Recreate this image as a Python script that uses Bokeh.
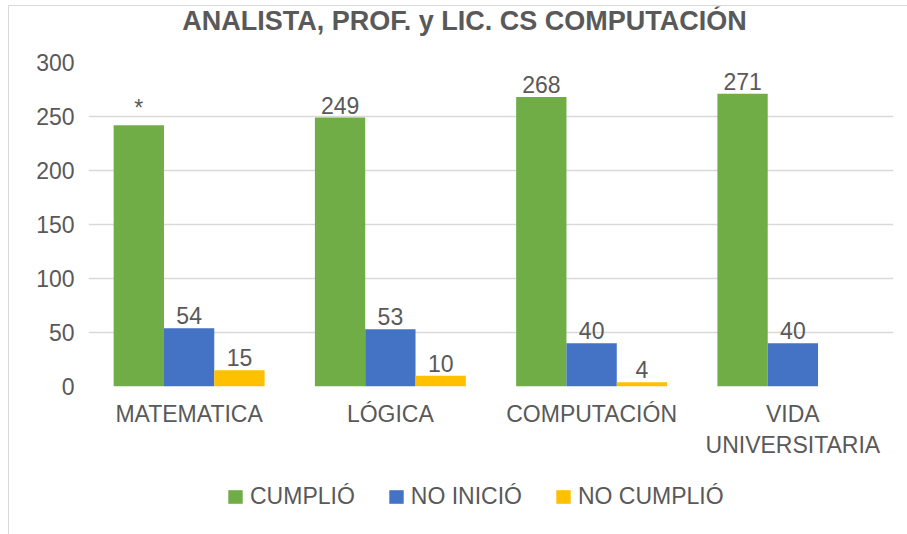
from bokeh.plotting import figure
from bokeh.models import ColumnDataSource, FactorRange, Legend, LegendItem, Label
from bokeh.layouts import column
from bokeh.transform import dodge
from bokeh.core.properties import value
from bokeh.embed import file_html
from bokeh.resources import INLINE

# ---- data ----
categories = ["MATEMATICA", "LÓGICA", "COMPUTACIÓN", "VIDA\nUNIVERSITARIA"]
series_names = ["CUMPLIÓ", "NO INICIÓ", "NO CUMPLIÓ"]
cumplio = [242, 249, 268, 271]
no_inicio = [54, 53, 40, 40]
no_cumplio = [15, 10, 4, 0]
cumplio_labels = ["*", "249", "268", "271"]
no_inicio_labels = ["54", "53", "40", "40"]
no_cumplio_labels = ["15", "10", "4", ""]
y_ticks = [0, 50, 100, 150, 200, 250, 300]
title_text = "ANALISTA, PROF. y LIC. CS COMPUTACIÓN"

colors = ["#70AD47", "#4472C4", "#FFC000"]
text_color = "#595959"
font = "Liberation Sans"
W = 898

src = ColumnDataSource(dict(
    cat=categories,
    cumplio=cumplio, no_inicio=no_inicio, no_cumplio=no_cumplio,
    l_cumplio=cumplio_labels, l_no_inicio=no_inicio_labels, l_no_cumplio=no_cumplio_labels,
))

# ---- title strip ----
pt = figure(
    width=W, height=40, x_range=(0, 1), y_range=(0, 1),
    output_backend="svg", toolbar_location=None,
    x_axis_location=None, y_axis_location=None, min_border=0,
)
pt.outline_line_color = None
pt.grid.visible = False
pt.add_layout(Label(
    x=376, y=26, x_units="screen", y_units="screen", text=title_text,
    text_align="center", text_baseline="middle",
    text_font=font, text_font_size="27px", text_font_style="bold", text_color=text_color,
))

# ---- main chart ----
p = figure(
    width=W, height=414,
    x_range=FactorRange(*categories, range_padding=0),
    y_range=(0, 300),
    output_backend="svg", toolbar_location=None,
    min_border_left=79, min_border_right=14, min_border_top=16, min_border_bottom=73,
)
p.outline_line_color = None
p.background_fill_color = "white"
p.border_fill_color = "white"

fields = ["cumplio", "no_inicio", "no_cumplio"]
label_fields = ["l_cumplio", "l_no_inicio", "l_no_cumplio"]
offsets = [-0.25, 0.0, 0.25]
renderers = []
for f, lf, off, c in zip(fields, label_fields, offsets, colors):
    r = p.vbar(x=dodge("cat", off, range=p.x_range), top=f, width=0.25, source=src,
               fill_color=c, line_color=None)
    renderers.append(r)
    p.text(x=dodge("cat", off, range=p.x_range), y=f, text=lf, source=src,
           text_align="center", text_baseline="bottom", y_offset=-4,
           text_font=value(font), text_font_size="23px", text_color=text_color)

p.xgrid.grid_line_color = None
p.ygrid.grid_line_color = "#d9d9d9"
p.ygrid.grid_line_width = 1.5
p.yaxis.ticker = y_ticks

for ax in (p.xaxis[0], p.yaxis[0]):
    ax.axis_line_color = None
    ax.major_tick_line_color = None
    ax.minor_tick_line_color = None
    ax.major_tick_out = 0
    ax.major_label_text_font = font
    ax.major_label_text_font_size = "23px"
    ax.major_label_text_color = text_color
p.yaxis.major_label_standoff = 14
p.xaxis.major_label_standoff = 14

# ---- legend strip (separate figure below the chart) ----
pl = figure(
    width=W, height=74, x_range=(0, 1), y_range=(0, 1),
    output_backend="svg", toolbar_location=None,
    x_axis_location=None, y_axis_location=None,
    min_border=0,
)
pl.outline_line_color = None
pl.grid.visible = False
nan = float("nan")
leg_renderers = []
for c in colors:
    # legend proxies: a single NaN bar each, so nothing is drawn in this strip
    leg_renderers.append(pl.vbar(x=[nan], top=[nan], width=0.25, fill_color=c, line_color=None))

legend = Legend(
    items=[LegendItem(label=n, renderers=[r], index=0) for n, r in zip(series_names, leg_renderers)],
    orientation="horizontal", location=(138, 24),
    glyph_width=18, glyph_height=17, label_standoff=6, spacing=32,
    label_text_font=font, label_text_font_size="23px", label_text_color=text_color,
    border_line_color=None, background_fill_alpha=0, margin=0, padding=0,
)
pl.add_layout(legend, "center")

layout = column(pt, p, pl, spacing=0, styles={
    "margin-left": "8px", "margin-top": "5px",
    "border-left": "1px solid #d9d9d9", "border-top": "1px solid #d9d9d9",
})

open("out.html", "w").write(file_html(layout, INLINE))
